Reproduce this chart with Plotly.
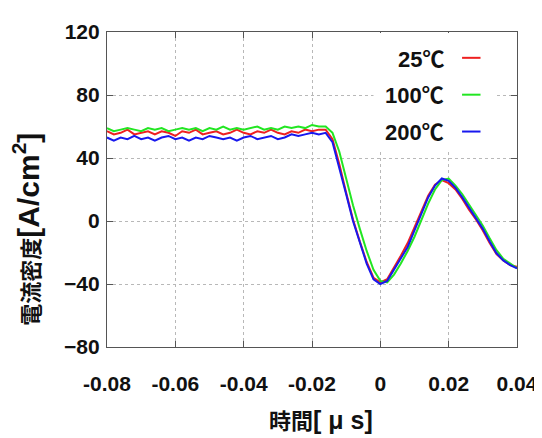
import plotly.graph_objects as go

# time axis [μs], step 0.002 from -0.08 to 0.04
time_us = [round(-0.08 + 0.002 * i, 3) for i in range(61)]

# current density [A/cm2]
j_25C = [57, 55, 56, 58, 55, 56, 57, 55, 57, 56, 54, 57, 56, 58, 55, 56,
         57, 55, 56, 58, 56, 55, 57, 56, 58, 56, 55, 57, 56, 58, 57, 58,
         58, 52, 36, 18, 1, -13, -26, -36, -39, -37, -29, -22, -14, -4, 6,
         16, 23, 26, 24, 20, 14, 7, 1, -6, -14, -21, -25, -28, -29]
j_100C = [59, 57, 58, 59, 58, 57, 59, 58, 59, 57, 58, 59, 58, 59, 57, 59,
          58, 60, 58, 59, 58, 59, 60, 58, 59, 58, 60, 59, 60, 59, 61, 60,
          60, 56, 44, 27, 10, -5, -19, -31, -38, -39, -34, -27, -19, -10, 1,
          11, 20, 26, 27, 22.5, 17, 10.5, 4, -3, -11, -18.5, -24, -27, -30]
j_200C = [53, 51, 53, 52, 54, 52, 53, 51, 53, 54, 52, 53, 51, 53, 52, 54,
          53, 52, 53, 51, 53, 54, 52, 53, 54, 52, 53, 55, 54, 55, 56, 55,
          56, 50, 34, 17, 0, -14, -27, -37, -40, -38, -31, -24, -16.5, -6, 4,
          15, 22.5, 27, 25.5, 21, 15, 8.5, 2, -5, -13, -20.5, -25, -28, -30]

series_names = ["25℃", "100℃", "200℃"]
series_colors = ["#ee2020", "#22e622", "#1818ee"]
series_values = [j_25C, j_100C, j_200C]

x_ticks = [-0.08, -0.06, -0.04, -0.02, 0, 0.02, 0.04]
x_tick_text = ["-0.08", "-0.06", "-0.04", "-0.02", "0", "0.02", "0.04"]
y_ticks = [-80, -40, 0, 40, 80, 120]

fig = go.Figure()
for name, color, vals in zip(series_names, series_colors, series_values):
    fig.add_trace(go.Scatter(x=time_us, y=vals, mode="lines", name=name,
                             line=dict(color=color, width=2)))

tick_font = dict(family="Liberation Sans, Arial, sans-serif", size=21, color="#111", weight="bold")
axis_common = dict(showline=True, linecolor="#555", linewidth=1.2, mirror="ticks",
                   ticks="inside", ticklen=6, tickcolor="#555",
                   showgrid=True, gridcolor="#b8b8b8", griddash="dot", gridwidth=1,
                   zeroline=False, tickfont=tick_font)

fig.update_xaxes(range=[-0.08, 0.04], tickvals=x_ticks, ticktext=x_tick_text,
                 ticklabelstandoff=18, **axis_common)
fig.update_yaxes(range=[-80, 120], tickvals=y_ticks, ticklabelstandoff=2, **axis_common)

# legend (text left of line sample)
shapes = [dict(type="rect", xref="paper", yref="paper", x0=0.65, x1=0.95, y0=0.622, y1=0.997,
               fillcolor="white", line=dict(width=0), layer="above")]
annotations = []
leg_y = [0.914, 0.797, 0.680]
for name, color, yy in zip(series_names, series_colors, leg_y):
    shapes.append(dict(type="line", xref="paper", yref="paper", x0=0.866, x1=0.911,
                       y0=yy + 0.004, y1=yy + 0.004, line=dict(color=color, width=2), layer="above"))
    annotations.append(dict(xref="paper", yref="paper", x=0.827, y=yy, xanchor="right",
                            yanchor="middle", showarrow=False, text="<b>" + name + "</b>",
                            font=dict(family="Liberation Sans, Noto Sans CJK JP", size=22, color="#111")))

annotations.append(dict(xref="paper", yref="paper", x=0.523, y=-0.232, xanchor="center",
                        yanchor="middle", showarrow=False,
                        text="<b>時間<span style='font-size:25px'>[ μ s]</span></b>",
                        font=dict(family="Liberation Sans, Noto Sans CJK JP", size=22, color="#111")))
annotations.append(dict(xref="paper", yref="paper", x=-0.198, y=0.375, xanchor="center",
                        yanchor="middle", showarrow=False, textangle=-90,
                        text="<b>電流密度<span style='font-size:30px'>[A/cm<sup>2</sup>]</span></b>",
                        font=dict(family="Liberation Sans, Noto Sans CJK JP", size=22, color="#111")))

fig.update_layout(width=542, height=438, margin=dict(l=99, r=26, t=14, b=99),
                  paper_bgcolor="white", plot_bgcolor="white", showlegend=False,
                  shapes=shapes, annotations=annotations)

fig.write_html("out.html")
